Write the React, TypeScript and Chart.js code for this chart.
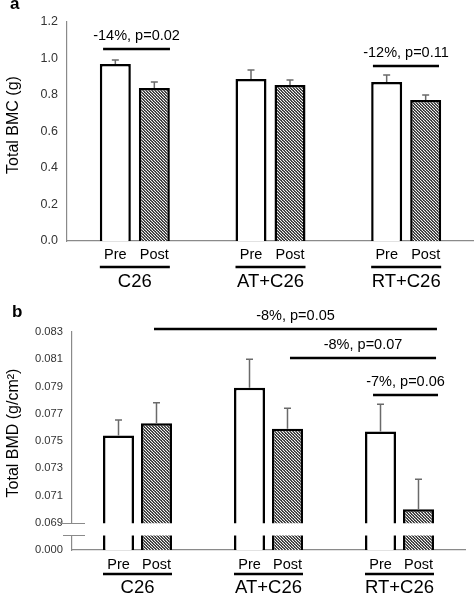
import React, { useEffect, useRef } from 'react';
import { Chart, registerables } from 'chart.js';

Chart.register(...registerables);

// ---------- data ----------
const categories = ['C26', 'AT+C26', 'RT+C26'];
const seriesNames = ['Pre', 'Post'];

const bmcPre = [0.97, 0.888, 0.871];
const bmcPost = [0.838, 0.855, 0.773];
const bmcPreErr = [0.022, 0.049, 0.039];
const bmcPostErr = [0.033, 0.027, 0.027];
const bmcTickValues = [0, 0.2, 0.4, 0.6, 0.8, 1.0, 1.2];
const bmcTickLabels = ['0.0', '0.2', '0.4', '0.6', '0.8', '1.0', '1.2'];

const bmdPre = [0.0754, 0.0789, 0.0757];
const bmdPost = [0.0763, 0.0759, 0.07];
const bmdPreErr = [0.00115, 0.0021, 0.002];
const bmdPostErr = [0.0015, 0.0015, 0.0022];
const bmdTickValues = [0.067, 0.069, 0.071, 0.073, 0.075, 0.077, 0.079, 0.081, 0.083];
const bmdTickLabels = ['0.000', '0.069', '0.071', '0.073', '0.075', '0.077', '0.079', '0.081', '0.083'];

type Ann = { text: string; y: number; from: number; to: number };

const bmcAnnotations: Ann[] = [
  { text: '-14%, p=0.02', y: 1.052, from: -0.234, to: 0.259 },
  { text: '-12%, p=0.11', y: 0.959, from: 1.755, to: 2.242 },
];
const bmdAnnotations: Ann[] = [
  { text: '-8%, p=0.05', y: 0.08322, from: 0.126, to: 2.286 },
  { text: '-8%, p=0.07', y: 0.0811, from: 1.164, to: 2.279 },
  { text: '-7%, p=0.06', y: 0.07838, from: 1.798, to: 2.294 },
];

// ---------- styling ----------
const FONT = '"Liberation Sans", Arial, Helvetica, sans-serif';
const AXIS_GRAY = '#8a8a8a';
const ERR_GRAY = '#6a6a6a';

interface PanelSpec {
  width: number;
  height: number;
  top: number;
  pad: { top: number; bottom: number; right: number };
  axisWidth: number;
  min: number;
  max: number;
  tickValues: number[];
  tickLabels: string[];
  tickFontSize: number;
  pre: number[];
  post: number[];
  preErr: number[];
  postErr: number[];
  base?: number;
  annotations: Ann[];
  title: string;
  titleX: number;
  titleY: number;
  letter: string;
  letterX: number;
  letterY: number;
  labelDy: number;
  underlineDy: number;
  groupDy: number;
  categoryPercentage: number;
  barPercentage: number;
  brk?: { upper: number; lower: number };
}

function makeHatch(): CanvasPattern | string {
  const c = document.createElement('canvas');
  c.width = 3;
  c.height = 3;
  const g = c.getContext('2d');
  if (!g) return '#555';
  g.fillStyle = '#111';
  g.fillRect(0, 0, 3, 3);
  g.strokeStyle = '#fff';
  g.lineWidth = 1.1;
  g.beginPath();
  for (const k of [-3, 0, 3]) {
    g.moveTo(k, 0);
    g.lineTo(k + 3, 3);
  }
  g.stroke();
  return g.createPattern(c, 'repeat') || '#555';
}

function Panel({ spec }: { spec: PanelSpec }) {
  const ref = useRef<HTMLCanvasElement | null>(null);

  useEffect(() => {
    const canvas = ref.current;
    if (!canvas) return;
    const hatch = makeHatch();

    const decor = {
      id: 'decor',
      afterDatasetsDraw(chart: any) {
        const ctx: CanvasRenderingContext2D = chart.ctx;
        const xs = chart.scales.x;
        const ys = chart.scales.y;
        const area = chart.chartArea;
        const metas = [chart.getDatasetMeta(0), chart.getDatasetMeta(1)];
        const vals = [spec.pre, spec.post];
        const errs = [spec.preErr, spec.postErr];
        ctx.save();

        // error bars
        ctx.strokeStyle = ERR_GRAY;
        ctx.lineWidth = 1.5;
        metas.forEach((meta: any, di: number) => {
          meta.data.forEach((el: any, i: number) => {
            const x = el.x;
            const y0 = el.y;
            const y1 = ys.getPixelForValue(vals[di][i] + errs[di][i]);
            ctx.beginPath();
            ctx.moveTo(x, y0);
            ctx.lineTo(x, y1);
            ctx.moveTo(x - 3.5, y1);
            ctx.lineTo(x + 3.5, y1);
            ctx.stroke();
          });
        });

        // axis break
        if (spec.brk) {
          const yu = ys.getPixelForValue(spec.brk.upper);
          const yl = ys.getPixelForValue(spec.brk.lower);
          ctx.fillStyle = '#fff';
          ctx.fillRect(area.left - 1, yu + 0.5, area.right - area.left + 2, yl - yu);
          ctx.strokeStyle = AXIS_GRAY;
          ctx.lineWidth = 1;
          ctx.beginPath();
          ctx.moveTo(area.left - 12, Math.round(yu) + 0.5);
          ctx.lineTo(area.left + 13, Math.round(yu) + 0.5);
          ctx.moveTo(area.left - 9, Math.round(yl) + 0.5);
          ctx.lineTo(area.left + 13, Math.round(yl) + 0.5);
          ctx.stroke();
        }

        ctx.fillStyle = '#000';
        ctx.strokeStyle = '#000';
        ctx.textAlign = 'center';
        ctx.textBaseline = 'middle';

        // significance annotations
        ctx.font = `14.5px ${FONT}`;
        ctx.lineWidth = 2.5;
        spec.annotations.forEach((a) => {
          const x0 = xs.getPixelForValue(a.from);
          const x1 = xs.getPixelForValue(a.to);
          const y = ys.getPixelForValue(a.y);
          ctx.beginPath();
          ctx.moveTo(x0, y);
          ctx.lineTo(x1, y);
          ctx.stroke();
          ctx.fillText(a.text, (x0 + x1) / 2, y - 13);
        });

        // Pre / Post labels, underline, group labels
        const bottom = area.bottom;
        categories.forEach((cat, i) => {
          const pEl = metas[0].data[i];
          const qEl = metas[1].data[i];
          ctx.font = `14.5px ${FONT}`;
          ctx.fillText(seriesNames[0], pEl.x, bottom + spec.labelDy);
          ctx.fillText(seriesNames[1], qEl.x, bottom + spec.labelDy);
          ctx.lineWidth = 2.5;
          ctx.beginPath();
          ctx.moveTo(pEl.x - pEl.width / 2, bottom + spec.underlineDy);
          ctx.lineTo(qEl.x + qEl.width / 2, bottom + spec.underlineDy);
          ctx.stroke();
          ctx.font = `18.5px ${FONT}`;
          ctx.fillText(cat, xs.getPixelForValue(i), bottom + spec.groupDy);
        });

        // axis title
        ctx.save();
        ctx.translate(spec.titleX, spec.titleY);
        ctx.rotate(-Math.PI / 2);
        ctx.font = `16px ${FONT}`;
        ctx.fillText(spec.title, 0, 0);
        ctx.restore();

        // panel letter
        ctx.font = `bold 17px ${FONT}`;
        ctx.textAlign = 'left';
        ctx.textBaseline = 'alphabetic';
        ctx.fillText(spec.letter, spec.letterX, spec.letterY);

        ctx.restore();
      },
    };

    const common = {
      borderColor: '#000',
      borderWidth: 2.5,
      categoryPercentage: spec.categoryPercentage,
      barPercentage: spec.barPercentage,
    } as any;
    if (spec.base !== undefined) common.base = spec.base;

    const chart = new Chart(canvas, {
      type: 'bar',
      data: {
        labels: categories,
        datasets: [
          { label: seriesNames[0], data: spec.pre, backgroundColor: '#fff', ...common },
          { label: seriesNames[1], data: spec.post, backgroundColor: hatch as any, ...common },
        ],
      },
      options: {
        responsive: false,
        animation: false,
        events: [],
        layout: { padding: { top: spec.pad.top, bottom: spec.pad.bottom, left: 0, right: spec.pad.right } },
        plugins: { legend: { display: false }, tooltip: { enabled: false }, title: { display: false } },
        scales: {
          x: {
            grid: { display: false, drawTicks: false },
            ticks: { display: false },
            border: { display: true, color: AXIS_GRAY, width: 1.2 },
            afterFit: (s: any) => {
              s.height = 0;
            },
          },
          y: {
            min: spec.min,
            max: spec.max,
            grid: { display: false, drawTicks: false },
            border: { display: true, color: AXIS_GRAY, width: 1.2 },
            ticks: {
              padding: 9,
              color: '#333',
              font: { family: FONT, size: spec.tickFontSize },
              callback: (_v: any, i: number) => spec.tickLabels[i],
            },
            afterBuildTicks: (s: any) => {
              s.ticks = spec.tickValues.map((v) => ({ value: v }));
            },
            afterFit: (s: any) => {
              s.width = spec.axisWidth;
            },
          },
        },
      } as any,
      plugins: [decor],
    });

    return () => {
      chart.destroy();
    };
  }, [spec]);

  return (
    <canvas
      ref={ref}
      width={spec.width}
      height={spec.height}
      style={{ position: 'absolute', left: 0, top: spec.top, display: 'block' }}
    />
  );
}

const topSpec: PanelSpec = {
  width: 474,
  height: 290,
  top: 0,
  pad: { top: 22, bottom: 49, right: 0 },
  axisWidth: 67,
  min: 0,
  max: 1.2,
  tickValues: bmcTickValues,
  tickLabels: bmcTickLabels,
  tickFontSize: 12.5,
  pre: bmcPre,
  post: bmcPost,
  preErr: bmcPreErr,
  postErr: bmcPostErr,
  annotations: bmcAnnotations,
  title: 'Total BMC (g)',
  titleX: 14,
  titleY: 125,
  letter: 'a',
  letterX: 10,
  letterY: 9,
  labelDy: 14,
  underlineDy: 26,
  groupDy: 41,
  categoryPercentage: 0.575,
  barPercentage: 0.795,
};

const bottomSpec: PanelSpec = {
  width: 474,
  height: 305,
  top: 290,
  pad: { top: 42, bottom: 45, right: 9 },
  axisWidth: 72,
  min: 0.067,
  max: 0.083,
  tickValues: bmdTickValues,
  tickLabels: bmdTickLabels,
  tickFontSize: 11.2,
  pre: bmdPre,
  post: bmdPost,
  preErr: bmdPreErr,
  postErr: bmdPostErr,
  base: 0.067,
  annotations: bmdAnnotations,
  title: 'Total BMD (g/cm²)',
  titleX: 14,
  titleY: 143,
  letter: 'b',
  letterX: 12,
  letterY: 27,
  labelDy: 15,
  underlineDy: 24,
  groupDy: 38,
  categoryPercentage: 0.58,
  barPercentage: 0.816,
  brk: { upper: 0.069, lower: 0.0681 },
};

export default function App() {
  useEffect(() => {
    document.body.style.margin = '0';
  }, []);
  return (
    <div style={{ position: 'absolute', left: 0, top: 0, width: 474, height: 595, background: '#fff' }}>
      <Panel spec={topSpec} />
      <Panel spec={bottomSpec} />
    </div>
  );
}
